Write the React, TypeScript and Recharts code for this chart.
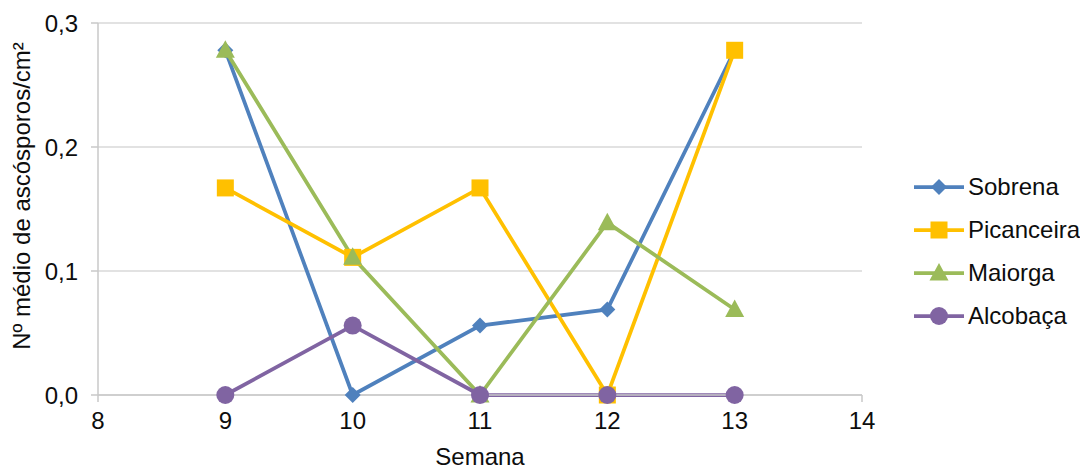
import React from 'react';
import { LineChart, Line, XAxis, YAxis, CartesianGrid } from 'recharts';

const weeks = [9, 10, 11, 12, 13];
const sobrena = [0.278, 0, 0.056, 0.069, 0.278];
const picanceira = [0.167, 0.111, 0.167, 0, 0.278];
const maiorga = [0.278, 0.111, 0, 0.139, 0.069];
const alcobaca = [0, 0.056, 0, 0, 0];
const xTicks = [8, 9, 10, 11, 12, 13, 14];
const yTicks = [0, 0.1, 0.2, 0.3];

const data = weeks.map((w, i) => ({
  week: w,
  Sobrena: sobrena[i],
  Picanceira: picanceira[i],
  Maiorga: maiorga[i],
  'Alcobaça': alcobaca[i],
}));

const FONT = '"Liberation Sans", Arial, sans-serif';
const TEXT = '#0d0d0d';
const AXIS = '#c8c8c8';
const FS = 24;

type Shape = 'diamond' | 'square' | 'triangle' | 'circle';

const series: { key: string; color: string; shape: Shape }[] = [
  { key: 'Sobrena', color: '#4F81BD', shape: 'diamond' },
  { key: 'Picanceira', color: '#FFC000', shape: 'square' },
  { key: 'Maiorga', color: '#9BBB59', shape: 'triangle' },
  { key: 'Alcobaça', color: '#8064A2', shape: 'circle' },
];

function Marker({ cx, cy, shape, color }: { cx: number; cy: number; shape: Shape; color: string }) {
  if (shape === 'diamond')
    return <polygon points={`${cx},${cy - 8} ${cx + 8},${cy} ${cx},${cy + 8} ${cx - 8},${cy}`} fill={color} />;
  if (shape === 'square') return <rect x={cx - 8.5} y={cy - 8.5} width={17} height={17} fill={color} />;
  if (shape === 'triangle')
    return <polygon points={`${cx},${cy - 10} ${cx + 9.5},${cy + 7.5} ${cx - 9.5},${cy + 7.5}`} fill={color} />;
  return <circle cx={cx} cy={cy} r={9} fill={color} />;
}

const fmt = (v: number) => v.toFixed(1).replace('.', ',');

export default function App() {
  return (
    <div style={{ position: 'relative', width: 1080, height: 462, fontFamily: FONT }}>
      <LineChart width={1080} height={462} data={data} margin={{ top: 15, right: 226, left: 30, bottom: 0 }}>
        <CartesianGrid stroke="#d9d9d9" strokeWidth={1.5} vertical={false} />
        <XAxis
          dataKey="week"
          type="number"
          domain={[8, 14]}
          ticks={xTicks}
          height={75}
          stroke={AXIS}
          strokeWidth={1.5}
          tickSize={7}
          tickMargin={10}
          tick={{ fill: TEXT, fontSize: FS, fontFamily: FONT }}
          label={{
            content: () => (
              <text x={472} y={457} textAnchor="middle" fill={TEXT} fontSize={FS} fontFamily={FONT}>
                Semana
              </text>
            ),
          }}
        />
        <YAxis
          type="number"
          domain={[0, 0.3]}
          ticks={yTicks}
          width={60}
          stroke={AXIS}
          strokeWidth={1.5}
          tickSize={7}
          tickMargin={13}
          tickFormatter={fmt}
          tick={{ fill: TEXT, fontSize: FS, fontFamily: FONT }}
          label={{
            content: () => (
              <text
                x={22}
                y={188}
                transform="rotate(-90 22 188)"
                textAnchor="middle"
                fill={TEXT}
                fontSize={FS}
                fontFamily={FONT}
              >
                Nº médio de ascósporos/cm²
              </text>
            ),
          }}
        />
        {series.map((s) => (
          <Line
            key={s.key}
            dataKey={s.key}
            stroke={s.color}
            strokeWidth={3.75}
            isAnimationActive={false}
            dot={(p: any) => <Marker key={`${s.key}-${p.index}`} cx={p.cx} cy={p.cy} shape={s.shape} color={s.color} />}
            activeDot={false}
          />
        ))}
      </LineChart>
      <div style={{ position: 'absolute', left: 905, top: 157 }}>
        {series.map((s) => (
          <div key={s.key} style={{ display: 'flex', alignItems: 'center', height: 43 }}>
            <svg width={52} height={20}>
              <line x1={1} y1={10} x2={51} y2={10} stroke={s.color} strokeWidth={3.75} />
              <Marker cx={26} cy={10} shape={s.shape} color={s.color} />
            </svg>
            <span style={{ fontSize: FS, color: TEXT, marginLeft: 3, lineHeight: 1 }}>{s.key}</span>
          </div>
        ))}
      </div>
    </div>
  );
}
